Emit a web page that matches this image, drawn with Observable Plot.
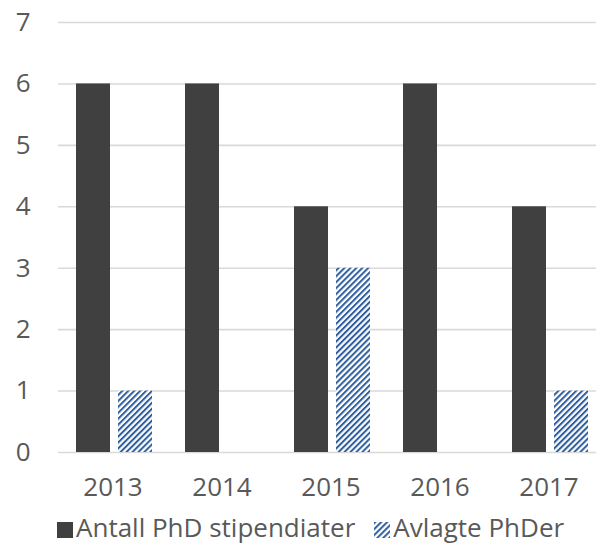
<!DOCTYPE html>
<html>
<head>
<meta charset="utf-8">
<script src="https://cdn.jsdelivr.net/npm/d3@7"></script>
<script src="https://cdn.jsdelivr.net/npm/@observablehq/plot@0.6"></script>
<style>
  html, body { margin: 0; background: #fff; font-family: "Open Sans", sans-serif; overflow: hidden; width: 596px; height: 546px; }
  #chart { width: 596px; overflow: hidden; }
  #chart svg { display: block; }
  #legend { display: flex; align-items: flex-start; padding-left: 57px; height: 36px; color: #595959; font-size: 26px; line-height: 35px; white-space: nowrap; }
  .item { display: flex; align-items: flex-start; }
  .item svg { margin-top: 12px; margin-right: 3px; flex: none; }
</style>
</head>
<body>
<div id="chart"></div>
<div id="legend"></div>
<script>
const years = ["2013", "2014", "2015", "2016", "2017"];
const seriesNames = ["Antall PhD stipendiater", "Avlagte PhDer"];
const stipendiater = [6, 6, 4, 6, 4];
const avlagte = [1, 0, 3, 0, 1];
const yTicks = [0, 1, 2, 3, 4, 5, 6, 7];

const data = [];
years.forEach((y, i) => {
  data.push({year: y, series: seriesNames[0], value: stipendiater[i]});
  data.push({year: y, series: seriesNames[1], value: avlagte[i]});
});

const fills = {[seriesNames[0]]: "#404040", [seriesNames[1]]: "url(#hatch)"};

const chart = Plot.plot({
  width: 596,
  height: 510,
  marginTop: 22,
  marginBottom: 58,
  marginLeft: 57,
  marginRight: -7,
  style: {fontFamily: "Open Sans, sans-serif", fontSize: "26px", color: "#595959", background: "#fff", overflow: "hidden"},
  fx: {domain: years, padding: 0, label: null, tickSize: 0, tickPadding: 25},
  x: {domain: seriesNames, paddingInner: 0.2, paddingOuter: 0.37, align: 0.53, axis: null},
  y: {domain: [0, 7], ticks: yTicks, tickFormat: d3.format("d"), label: null, tickSize: 0, tickPadding: 28},
  marks: [
    Plot.ruleY(yTicks, {stroke: "#d9d9d9", strokeWidth: 1.6}),
    Plot.barY(data, {fx: "year", x: "series", y: "value", fill: d => fills[d.series]})
  ]
});

const ns = "http://www.w3.org/2000/svg";
const patternDef = id => `<pattern id="${id}" patternUnits="userSpaceOnUse" width="4.2" height="4.2" patternTransform="rotate(45)">
  <rect width="4.2" height="4.2" fill="#ffffff"/>
  <rect width="2.0" height="4.2" fill="#2f5e9e"/>
</pattern>`;
const defs = document.createElementNS(ns, "defs");
defs.innerHTML = patternDef("hatch");
chart.insertBefore(defs, chart.firstChild);
document.getElementById("chart").appendChild(chart);

const legend = document.getElementById("legend");
seriesNames.forEach((name, i) => {
  const item = document.createElement("div");
  item.className = "item";
  if (i > 0) item.style.marginLeft = "19px";
  const sw = document.createElementNS(ns, "svg");
  sw.setAttribute("width", 16); sw.setAttribute("height", 16);
  sw.innerHTML = i === 0
    ? `<rect width="16" height="16" fill="#404040"/>`
    : `<defs>${patternDef("hatch2")}</defs><rect width="16" height="16" fill="url(#hatch2)"/>`;
  item.appendChild(sw);
  const t = document.createElement("span");
  t.textContent = name;
  item.appendChild(t);
  legend.appendChild(item);
});
</script>
</body>
</html>
